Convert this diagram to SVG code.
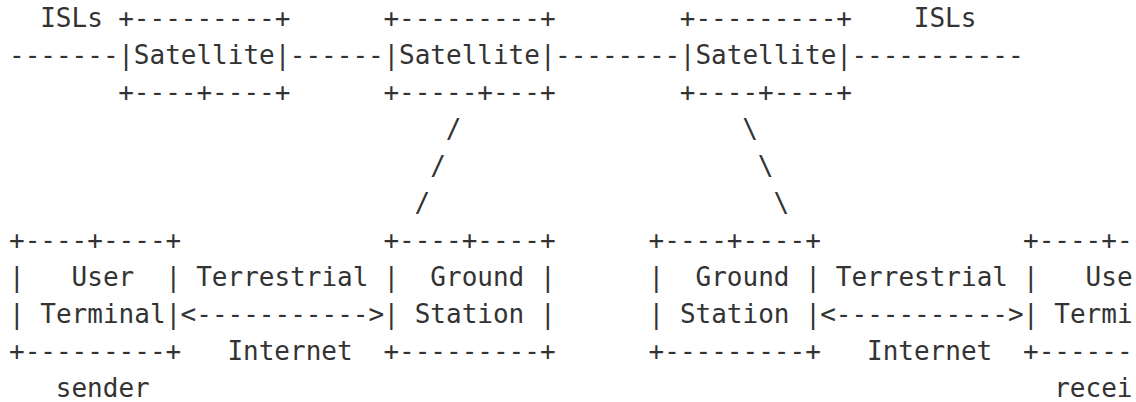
<svg xmlns="http://www.w3.org/2000/svg" width="1136" height="402" viewBox="0 0 1136 402">
<style>
text{font-family:"DejaVu Sans Mono","Liberation Mono",monospace;font-size:26px;fill:#333;white-space:pre}
</style>
<rect width="1136" height="402" fill="#fff"/>
<g id="isl-label-left"><text x="40.2" y="27">ISLs</text></g>
<g id="isl-label-right"><text x="913.8" y="27">ISLs</text></g>
<g id="sat1">
<text x="118.2" y="27">+---------+</text>
<text x="118.2" y="64">|Satellite|</text>
<text x="118.2" y="101">+----+----+</text>
</g>
<g id="sat2">
<text x="383.4" y="27">+---------+</text>
<text x="383.4" y="64">|Satellite|</text>
<text x="383.4" y="101">+-----+---+</text>
</g>
<g id="sat3">
<text x="679.8" y="27">+---------+</text>
<text x="679.8" y="64">|Satellite|</text>
<text x="679.8" y="101">+----+----+</text>
</g>
<g id="user-terminal-sender">
<text x="9" y="249">+----+----+</text>
<text x="9" y="286">|   User  |</text>
<text x="9" y="323">| Terminal|</text>
<text x="9" y="360">+---------+</text>
<text x="55.8" y="397">sender</text>
</g>
<g id="ground-station-1">
<text x="383.4" y="249">+----+----+</text>
<text x="383.4" y="286">|  Ground |</text>
<text x="383.4" y="323">| Station |</text>
<text x="383.4" y="360">+---------+</text>
</g>
<g id="ground-station-2">
<text x="648.6" y="249">+----+----+</text>
<text x="648.6" y="286">|  Ground |</text>
<text x="648.6" y="323">| Station |</text>
<text x="648.6" y="360">+---------+</text>
</g>
<g id="user-terminal-receiver">
<text x="1023" y="249">+----+-</text>
<text x="1023" y="286">|   Use</text>
<text x="1023" y="323">| Termi</text>
<text x="1023" y="360">+------</text>
<text x="1054.2" y="397">recei</text>
</g>
<g id="connectors">
<text x="9" y="64">-------</text>
<text x="289.8" y="64">------</text>
<text x="555" y="64">--------</text>
<text x="851.4" y="64">-----------</text>
<text x="445.8" y="138">/</text>
<text x="430.2" y="175">/</text>
<text x="414.6" y="212">/</text>
<text x="742.2" y="138">\</text>
<text x="757.8" y="175">\</text>
<text x="773.4" y="212">\</text>
<text x="196.2" y="286">Terrestrial</text>
<text x="180.6" y="323">&lt;-----------&gt;</text>
<text x="227.4" y="360">Internet</text>
<text x="835.8" y="286">Terrestrial</text>
<text x="820.2" y="323">&lt;-----------&gt;</text>
<text x="867" y="360">Internet</text>
</g>
</svg>
